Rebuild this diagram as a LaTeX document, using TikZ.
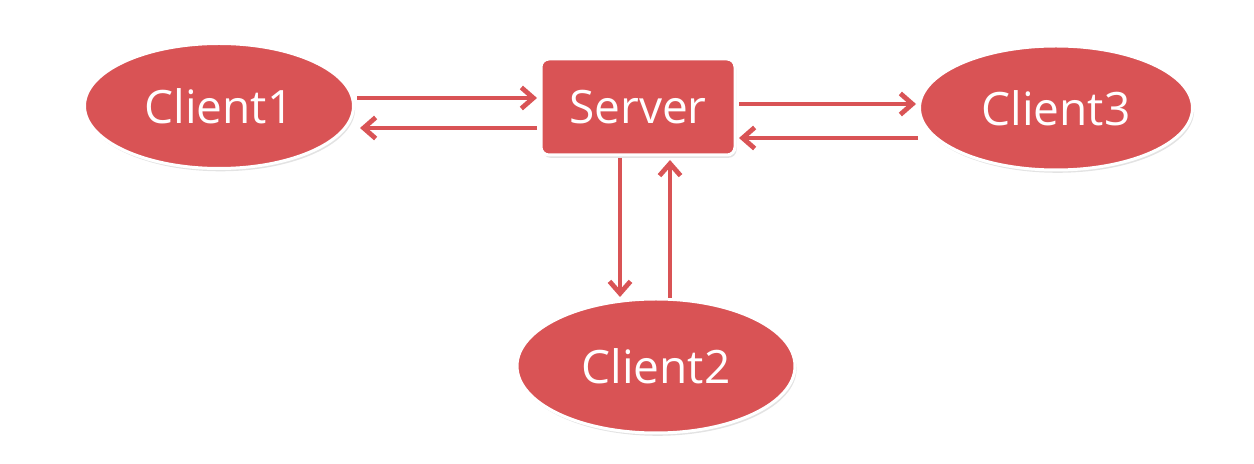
\documentclass[tikz,border=0pt]{standalone}
\usepackage{fontspec}
\setmainfont{Open Sans}
\usetikzlibrary{arrows.meta,shapes.geometric,shadows}
\definecolor{nodered}{RGB}{217,83,85}
\tikzset{
  base/.style={fill=nodered, draw=white, line width=1.5pt, text=white,
    font=\fontsize{23}{27}\selectfont, inner sep=0pt,
    drop shadow={opacity=0.22, shadow xshift=0.8pt, shadow yshift=-1.4pt}},
  ell/.style={base, ellipse},
  box/.style={base, rectangle, rounded corners=4pt},
  arr/.style={draw=nodered, line width=2.4pt, -{Straight Barb[length=6pt,width=10.5pt]}}
}
\begin{document}
\begin{tikzpicture}[x=0.5pt,y=-0.5pt]
\useasboundingbox (0,0) rectangle (1254,464);
\node[ell, minimum width=134.5pt, minimum height=62.5pt] (c1) at (219,106) {Client1};
\node[box, minimum width=97pt, minimum height=48pt] (srv) at (638,107) {Server};
\node[ell, minimum width=136.5pt, minimum height=62pt] (c3) at (1056,108) {Client3};
\node[ell, minimum width=139pt, minimum height=67pt] (c2) at (656,366) {Client2};
\draw[arr] ([shift={(138,-8)}]c1.center) -- ([shift={(-101,-9)}]srv.center);
\draw[arr] ([shift={(-101,21)}]srv.center) -- ([shift={(141,22)}]c1.center);
\draw[arr] ([shift={(101,-3)}]srv.center) -- ([shift={(-140,-4)}]c3.center);
\draw[arr] ([shift={(-138,30)}]c3.center) -- ([shift={(101,31)}]srv.center);
\draw[arr] ([shift={(-18,51)}]srv.center) -- ([shift={(-36,-69)}]c2.center);
\draw[arr] ([shift={(14,-68)}]c2.center) -- ([shift={(32,53)}]srv.center);
\end{tikzpicture}
\end{document}
